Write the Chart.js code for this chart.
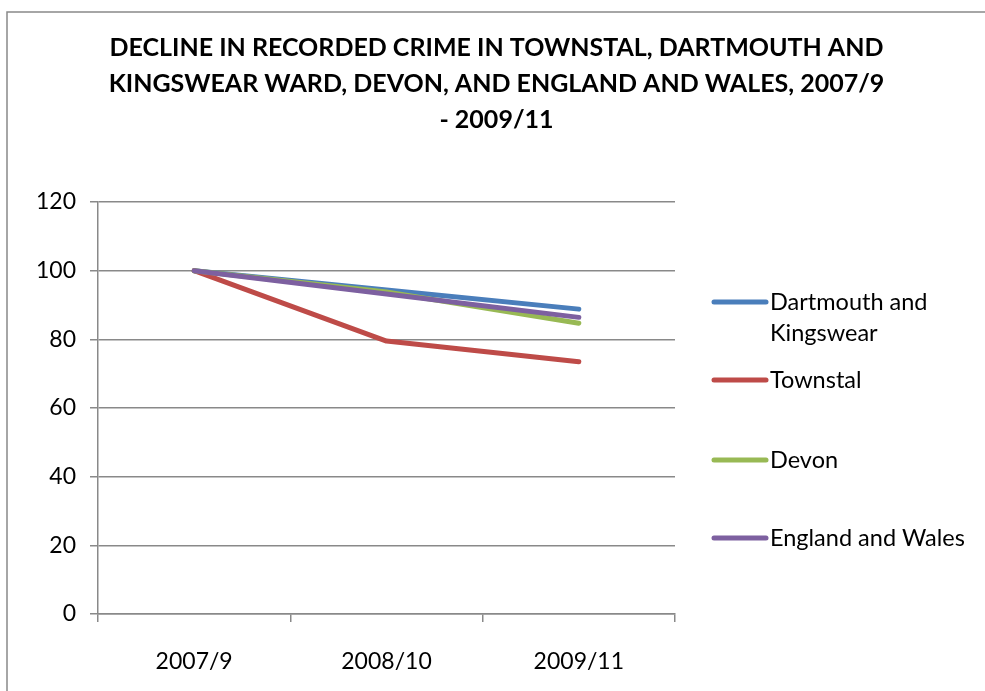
<!DOCTYPE html>
<html>
<head>
<meta charset="utf-8">
<script src="https://cdn.jsdelivr.net/npm/chart.js@4.4.1/dist/chart.umd.min.js"></script>
<style>
    html, body { margin: 0; padding: 0; background: #fff; }
    #crimeChart { display: block; }
</style>
</head>
<body>
<canvas id="crimeChart" width="985" height="691"></canvas>
<script>
// Index, 2007/9 = 100
const periods = ['2007/9', '2008/10', '2009/11'];
const dartmouthKingswear = [100, 94.4, 88.8];
const townstal = [100, 79.5, 73.5];
const devon = [100, 93.8, 84.7];
const englandWales = [100, 93.2, 86.4];

const seriesNames = [['Dartmouth and', 'Kingswear'], ['Townstal'], ['Devon'], ['England and Wales']];
const titleLines = [
    'DECLINE IN RECORDED CRIME IN TOWNSTAL, DARTMOUTH AND',
    'KINGSWEAR WARD, DEVON, AND ENGLAND AND WALES, 2007/9',
    '- 2009/11'
];

const GREY = '#898989';
const FONT = 'Lato';

// frame round the whole chart, like the spreadsheet chart box
const framePlugin = {
    id: 'frame',
    beforeDraw(chart) {
        const ctx = chart.ctx;
        ctx.save();
        ctx.fillStyle = '#ffffff';
        ctx.fillRect(0, 0, chart.width, chart.height);
        ctx.strokeStyle = GREY;
        ctx.lineWidth = 1.5;
        ctx.strokeRect(7, 12, chart.width + 20, chart.height + 20);
        ctx.restore();
    }
};

// legend drawn by hand so the rows sit where the spreadsheet put them
const sideLegend = {
    id: 'sideLegend',
    afterDraw(chart, args, opts) {
        const ctx = chart.ctx;
        ctx.save();
        ctx.font = `${opts.fontSize}px ${FONT}`;
        ctx.textBaseline = 'middle';
        ctx.fillStyle = '#000';
        chart.data.datasets.forEach((ds, i) => {
            const y = opts.rows[i];
            ctx.strokeStyle = ds.borderColor;
            ctx.lineWidth = 5;
            ctx.lineCap = 'round';
            ctx.beginPath();
            ctx.moveTo(opts.x, y);
            ctx.lineTo(opts.x + opts.lineLength, y);
            ctx.stroke();
            seriesNames[i].forEach((txt, k) => {
                ctx.fillText(txt, opts.x + opts.lineLength + 4, y + k * opts.lineGap);
            });
        });
        ctx.restore();
    }
};

const makeSet = (label, data, color, order) => ({
    label: label,
    data: data,
    borderColor: color,
    backgroundColor: color,
    borderWidth: 5,
    borderCapStyle: 'round',
    borderJoinStyle: 'round',
    pointRadius: 0,
    tension: 0,
    order: order
});

new Chart(document.getElementById('crimeChart'), {
    type: 'line',
    data: {
        labels: periods,
        datasets: [
            makeSet('Dartmouth and Kingswear', dartmouthKingswear, '#4a7ebb', 3),
            makeSet('Townstal', townstal, '#be4b48', 2),
            makeSet('Devon', devon, '#98b954', 1),
            makeSet('England and Wales', englandWales, '#7d60a0', 0)
        ]
    },
    plugins: [framePlugin, sideLegend],
    options: {
        responsive: false,
        animation: false,
        layout: {
            padding: {left: 8, right: 0, top: 0, bottom: 0}
        },
        plugins: {
            legend: {display: false},
            tooltip: {enabled: false},
            title: {
                display: true,
                text: titleLines,
                color: '#000',
                font: {family: FONT, size: 25, weight: 'bold', lineHeight: 36 / 25},
                padding: {top: 30, bottom: 64}
            },
            sideLegend: {
                x: 714,
                lineLength: 52,
                rows: [302, 380, 460, 538],
                lineGap: 31,
                fontSize: 23.5
            }
        },
        scales: {
            x: {
                offset: true,
                grid: {
                    offset: true,
                    drawOnChartArea: false,
                    color: GREY,
                    lineWidth: 1.5,
                    tickLength: 8
                },
                border: {color: GREY, width: 1.5},
                ticks: {color: '#000', padding: 26, font: {family: FONT, size: 23}},
                afterFit(scale) { scale.height = 77; }
            },
            y: {
                min: 0,
                max: 120,
                ticks: {stepSize: 20, color: '#000', padding: 14, font: {family: FONT, size: 23}},
                grid: {color: GREY, lineWidth: 1.5, tickLength: 8},
                border: {color: GREY, width: 1.5},
                afterFit(scale) { scale.width = 90; }
            },
            // empty right-hand axis that only keeps room for the legend
            legendSpace: {
                position: 'right',
                min: 0,
                max: 120,
                ticks: {display: false},
                grid: {display: false, drawOnChartArea: false},
                border: {display: false},
                afterFit(scale) { scale.width = 310; }
            }
        }
    }
});
</script>
</body>
</html>
